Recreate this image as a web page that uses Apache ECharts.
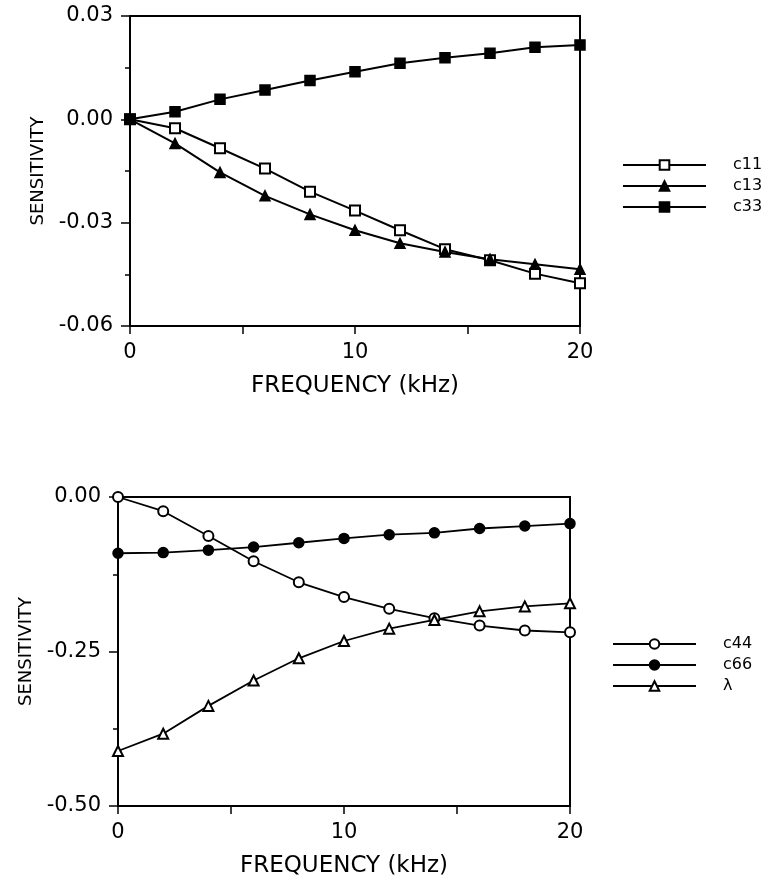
<!DOCTYPE html>
<html>
<head>
<meta charset="utf-8">
<script src="https://cdn.jsdelivr.net/npm/echarts@6/dist/echarts.min.js"></script>
<style>html,body{margin:0;padding:0;background:#fff}#c{width:762px;height:883px}</style>
</head>
<body>
<div id="c"></div>
<script>
const freq = [0, 2, 4, 6, 8, 10, 12, 14, 16, 18, 20];
const c11 = [0, -0.0026, -0.0084, -0.0143, -0.0210, -0.0265, -0.0322, -0.0377, -0.0409, -0.0448, -0.0476];
const c13 = [0, -0.0070, -0.0154, -0.0222, -0.0276, -0.0322, -0.0360, -0.0385, -0.0406, -0.0421, -0.0435];
const c33 = [0, 0.0022, 0.0058, 0.0085, 0.0113, 0.0138, 0.0163, 0.0179, 0.0192, 0.0209, 0.0216];
const c44 = [0, -0.023, -0.063, -0.104, -0.138, -0.162, -0.181, -0.196, -0.208, -0.216, -0.219];
const c66 = [-0.091, -0.090, -0.086, -0.081, -0.074, -0.067, -0.061, -0.058, -0.051, -0.047, -0.043];
const lam = [-0.411, -0.383, -0.338, -0.297, -0.261, -0.233, -0.213, -0.199, -0.185, -0.177, -0.172];
const xTickLabels = ['0', '10', '20'];
const yTopLabels = ['-0.06', '-0.03', '0.00', '0.03'];
const yBotLabels = ['-0.50', '-0.25', '0.00'];

const FONT = 'DejaVu Sans';
const pairs = (ys) => freq.map((x, i) => [x, ys[i]]);

function xAxis(gridIndex) {
  return {
    type: 'value', gridIndex, min: 0, max: 20, interval: 5,
    name: 'FREQUENCY (kHz)', nameLocation: 'middle', nameGap: 49,
    nameTextStyle: { color: '#000', fontFamily: FONT, fontSize: 23 },
    axisLine: { show: true, onZero: false, lineStyle: { color: '#000', width: 2 } },
    axisTick: { show: true, inside: false, length: 8, lineStyle: { color: '#000', width: 1.5 } },
    axisLabel: {
      color: '#000', fontFamily: FONT, fontSize: 21, margin: 16,
      formatter: v => { const s = String(Math.round(v)); return xTickLabels.includes(s) ? s : ''; }
    },
    splitLine: { show: false }
  };
}
function yAxis(gridIndex, min, max, interval, labels, nameGap) {
  return {
    type: 'value', gridIndex, min, max, interval,
    name: 'SENSITIVITY', nameLocation: 'middle', nameGap,
    nameTextStyle: { color: '#000', fontFamily: FONT, fontSize: 18 },
    axisLine: { show: true, onZero: false, lineStyle: { color: '#000', width: 2 } },
    axisTick: { show: true, inside: false, length: 9, lineStyle: { color: '#000', width: 1.5 } },
    minorTick: { show: true, splitNumber: 2, length: 5, lineStyle: { color: '#000', width: 1.5 } },
    axisLabel: {
      color: '#000', fontFamily: FONT, fontSize: 21, margin: 17,
      formatter: v => { const s = v.toFixed(2); const t = s === '-0.00' ? '0.00' : s; return labels.includes(t) ? t : ''; }
    },
    splitLine: { show: false }
  };
}
function line(name, data, symbol, xi, yi, w) {
  return {
    name, type: 'line', xAxisIndex: xi, yAxisIndex: yi, data: pairs(data),
    symbol, symbolSize: 10, showSymbol: true, smooth: false,
    lineStyle: { color: '#000', width: w },
    itemStyle: { color: '#000', borderColor: '#000', borderWidth: 1.5 },
    emphasis: { disabled: true }, animation: false, z: 3
  };
}
const legendBase = {
  orient: 'vertical', itemWidth: 83, itemHeight: 12, itemGap: 5,
  textStyle: { color: '#000', fontFamily: FONT, fontSize: 16, lineHeight: 16, padding: [0, 0, 0, 22] },
  inactiveColor: '#000', selectedMode: false
};

const chart = echarts.init(document.getElementById('c'), null, { renderer: 'canvas' });
chart.setOption({
  backgroundColor: '#fff',
  animation: false,
  grid: [
    { left: 130, top: 16, width: 450, height: 310, show: true, borderColor: '#000', borderWidth: 2, backgroundColor: 'transparent' },
    { left: 118, top: 497, width: 452, height: 309, show: true, borderColor: '#000', borderWidth: 2, backgroundColor: 'transparent' }
  ],
  xAxis: [xAxis(0), xAxis(1)],
  yAxis: [yAxis(0, -0.06, 0.03, 0.03, yTopLabels, 79), yAxis(1, -0.5, 0, 0.25, yBotLabels, 79)],
  legend: [
    Object.assign({}, legendBase, { left: 617, top: 152, data: ['c11', 'c13', 'c33'] }),
    Object.assign({}, legendBase, { left: 607, top: 631, data: ['c44', 'c66', 'λ'] })
  ],
  series: [
    line('c11', c11, 'emptyRect', 0, 0, 2),
    line('c13', c13, 'triangle', 0, 0, 2),
    line('c33', c33, 'rect', 0, 0, 2),
    line('c44', c44, 'emptyCircle', 1, 1, 1.8),
    line('c66', c66, 'circle', 1, 1, 1.8),
    line('λ', lam, 'emptyTriangle', 1, 1, 1.8)
  ]
});
</script>
</body>
</html>
